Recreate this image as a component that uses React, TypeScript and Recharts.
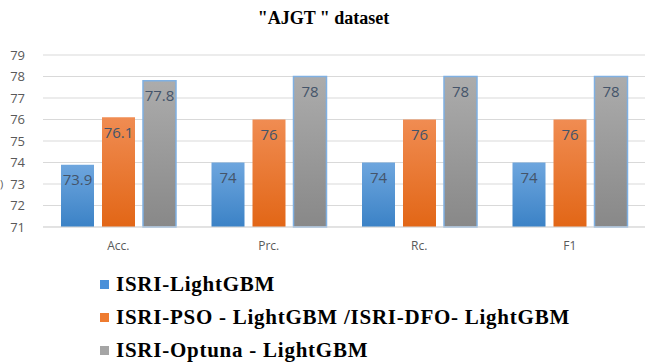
import { Bar, BarChart, CartesianGrid, LabelList, XAxis, YAxis } from 'recharts';

const metrics = ['Acc.', 'Prc.', 'Rc.', 'F1'];
const lightGbm = [73.9, 74, 74, 74];
const psoDfoLightGbm = [76.1, 76, 76, 76];
const optunaLightGbm = [77.8, 78, 78, 78];
const yTicks = [71, 72, 73, 74, 75, 76, 77, 78, 79];

const seriesNames = [
	'ISRI-LightGBM',
	'ISRI-PSO - LightGBM /ISRI-DFO- LightGBM',
	'ISRI-Optuna - LightGBM',
];

const rows = metrics.map((name, i) => ({
	name,
	base: lightGbm[i],
	pso: psoDfoLightGbm[i],
	optuna: optunaLightGbm[i],
}));

const serif = '"Times New Roman", "Liberation Serif", "DejaVu Serif", serif';
const legendColors = ['#4a90d9', '#ee7b30', '#a5a5a5'];
const labelStyle = { fill: '#44546a', fontSize: 15, fontFamily: 'Open Sans, sans-serif' };

export default function App() {
	return (
		<div
			style={{
				position: 'absolute',
				left: 0,
				top: 0,
				width: 647,
				height: 362,
				background: '#fff',
				overflow: 'hidden',
			}}
		>
			<div
				style={{
					position: 'absolute',
					top: 8,
					width: 647,
					textAlign: 'center',
					fontFamily: serif,
					fontWeight: 'bold',
					fontSize: 18,
					color: '#000',
				}}
			>
				"AJGT " dataset
			</div>
			<div
				style={{
					position: 'absolute',
					left: 0,
					top: 176,
					fontFamily: 'Open Sans, sans-serif',
					fontSize: 11,
					color: '#595959',
				}}
			>
				)
			</div>
			<BarChart
				width={647}
				height={260}
				data={rows}
				margin={{ top: 55, right: 2, left: 0, bottom: 3 }}
				barSize={33}
				barGap={8}
			>
				<defs>
					<linearGradient id="gBlue" x1="0" y1="0" x2="0" y2="1">
						<stop offset="0%" stopColor="#6ea6de" />
						<stop offset="100%" stopColor="#3b82c6" />
					</linearGradient>
					<linearGradient id="gOrange" x1="0" y1="0" x2="0" y2="1">
						<stop offset="0%" stopColor="#f08c52" />
						<stop offset="100%" stopColor="#e26616" />
					</linearGradient>
					<linearGradient id="gGray" x1="0" y1="0" x2="0" y2="1">
						<stop offset="0%" stopColor="#acacac" />
						<stop offset="100%" stopColor="#888888" />
					</linearGradient>
				</defs>
				<CartesianGrid vertical={false} stroke="#d9d9d9" />
				<XAxis
					dataKey="name"
					height={30}
					tickLine={false}
					axisLine={{ stroke: '#d9d9d9' }}
					tick={{ fill: '#595959', fontSize: 12, fontFamily: 'Open Sans, sans-serif' }}
					tickMargin={8}
				/>
				<YAxis
					width={43}
					domain={[71, 79]}
					ticks={yTicks}
					interval={0}
					tickLine={false}
					axisLine={false}
					tick={{ fill: '#595959', fontSize: 13, fontFamily: 'Open Sans, sans-serif' }}
					tickMargin={12}
				/>
				<Bar dataKey="base" fill="url(#gBlue)" isAnimationActive={false}>
					<LabelList dataKey="base" position="insideTop" offset={10} style={labelStyle} />
				</Bar>
				<Bar dataKey="pso" fill="url(#gOrange)" isAnimationActive={false}>
					<LabelList dataKey="pso" position="insideTop" offset={10} style={labelStyle} />
				</Bar>
				<Bar
					dataKey="optuna"
					fill="url(#gGray)"
					stroke="#7fb0e2"
					strokeWidth={1.5}
					isAnimationActive={false}
				>
					<LabelList dataKey="optuna" position="insideTop" offset={10} style={labelStyle} />
				</Bar>
			</BarChart>
			{seriesNames.map((label, i) => (
				<div
					key={label}
					style={{
						position: 'absolute',
						left: 100,
						top: 272 + i * 33,
						display: 'flex',
						alignItems: 'center',
						fontFamily: serif,
						fontWeight: 'bold',
						fontSize: 21,
						letterSpacing: 0.75,
						color: '#000',
						whiteSpace: 'nowrap',
					}}
				>
					<span
						style={{
							display: 'inline-block',
							width: 9,
							height: 9,
							background: legendColors[i],
							marginRight: 7,
						}}
					/>
					{label}
				</div>
			))}
		</div>
	);
}
